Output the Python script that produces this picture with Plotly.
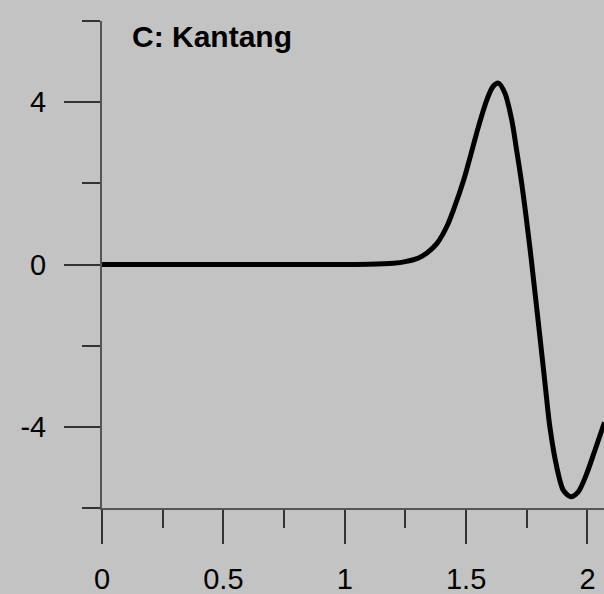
import plotly.graph_objects as go

# Station C (Kantang): waveform amplitude versus time
time_s = [0.0, 0.5, 1.0, 1.1, 1.2, 1.25, 1.3, 1.34, 1.38, 1.42, 1.45, 1.49, 1.52,
          1.55, 1.585, 1.61, 1.633, 1.66, 1.688, 1.708, 1.729, 1.747, 1.766,
          1.784, 1.804, 1.825, 1.845, 1.873, 1.90, 1.931, 1.962, 1.997, 2.031, 2.07]
amplitude = [0.0, 0.0, 0.0, 0.005, 0.03, 0.07, 0.15, 0.29, 0.52, 0.93, 1.38, 2.08, 2.72,
             3.38, 4.05, 4.38, 4.47, 4.22, 3.56, 2.82, 2.0, 1.18, 0.25,
             -0.71, -1.78, -2.93, -4.0, -4.98, -5.56, -5.72, -5.60, -5.15, -4.57, -3.89]

x_ticks = [0, 0.5, 1, 1.5, 2]
x_labels = ["0", "0.5", "1", "1.5", "2"]
y_ticks = [-4, 0, 4]
y_labels = ["-4", "0", "4"]
panel_title = "C: Kantang"

bg = "#c3c3c3"
font_family = "Liberation Sans, Arial, sans-serif"

fig = go.Figure(
    go.Scatter(
        x=time_s, y=amplitude, mode="lines",
        line=dict(color="black", width=5, shape="spline", smoothing=0.8),
        hoverinfo="skip",
    )
)

fig.update_layout(
    width=604, height=594,
    margin=dict(l=102, r=0, t=21, b=86, autoexpand=False),
    paper_bgcolor=bg, plot_bgcolor=bg,
    showlegend=False,
    font=dict(family=font_family, size=29, color="black"),
    annotations=[dict(
        text=f"<b>{panel_title}</b>", xref="paper", yref="paper",
        x=0.056, y=0.969, xanchor="left", yanchor="middle",
        showarrow=False, font=dict(family=font_family, size=30, color="black"),
    )],
)

fig.update_xaxes(
    range=[0, 2.068], showgrid=False, zeroline=False, automargin=False,
    showline=True, linecolor="#555555", linewidth=2,
    ticks="outside", ticklen=34, tickwidth=1.5, tickcolor="#333333",
    tickvals=x_ticks, ticktext=x_labels, ticklabelstandoff=10,
    minor=dict(dtick=0.25, tick0=0, ticks="outside", ticklen=18,
               tickwidth=1.5, tickcolor="#333333", showgrid=False),
)

fig.update_yaxes(
    range=[-6, 6], showgrid=False, zeroline=False, automargin=False,
    showline=True, linecolor="#555555", linewidth=2,
    ticks="outside", ticklen=36, tickwidth=1.5, tickcolor="#333333",
    tickvals=y_ticks, ticktext=y_labels, ticklabelstandoff=12,
    minor=dict(dtick=2, tick0=0, ticks="outside", ticklen=18,
               tickwidth=1.5, tickcolor="#333333", showgrid=False),
)

fig.write_html("out.html")
